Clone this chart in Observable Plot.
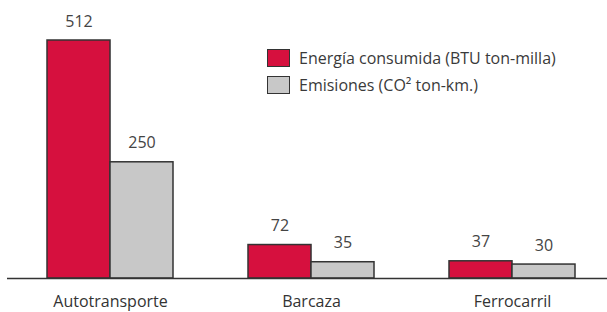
<!DOCTYPE html>
<html>
<head>
<meta charset="utf-8">
<script src="https://cdn.jsdelivr.net/npm/d3@7"></script>
<script src="https://cdn.jsdelivr.net/npm/@observablehq/plot@0.6"></script>
<style>
  html, body { margin: 0; padding: 0; background: #fff; }
  #wrap { position: relative; width: 607px; height: 312px; font-family: "Open Sans", Lato, sans-serif; }
  #legend { position: absolute; left: 267px; top: 44px; font-size: 16px; color: #3a3a3a; }
  .item { display: flex; align-items: center; height: 27px; }
  .sw { width: 23px; height: 18px; box-sizing: border-box; border: 1.5px solid #333; margin-right: 9px; }
</style>
</head>
<body>
<div id="wrap"></div>
<script>
const categories = ["Autotransporte", "Barcaza", "Ferrocarril"];
const seriesNames = ["Energía consumida (BTU ton-milla)", "Emisiones (CO² ton-km.)"];
const energia = [512, 72, 37];
const emisiones = [250, 35, 30];
const colors = ["#d6103e", "#c8c8c8"];

const rows = [];
categories.forEach((c, i) => {
  rows.push({cat: c, serie: seriesNames[0], value: energia[i], side: 0});
  rows.push({cat: c, serie: seriesNames[1], value: emisiones[i], side: 1});
});
const red = rows.filter(d => d.side === 0);
const gray = rows.filter(d => d.side === 1);

const width = 607, height = 312;
const marginLeft = 7, marginRight = 0;
const pi = 0.375, po = 0.176, align = 0.55;
const step = (width - marginLeft - marginRight) / (categories.length - pi + 2 * po);
const bw = step * (1 - pi);
const half = bw / 2;
const font = "'Open Sans', Lato, sans-serif";

const chart = Plot.plot({
  width, height,
  marginLeft, marginRight,
  marginTop: 40, marginBottom: 34,
  style: {fontFamily: font, background: "#fff"},
  x: {domain: categories, paddingInner: pi, paddingOuter: po, align, label: null, tickSize: 0, tickPadding: 17},
  y: {domain: [0, 512], axis: null},
  color: {domain: seriesNames, range: colors},
  marks: [
    Plot.barY(red, {x: "cat", y: "value", fill: "serie", stroke: "#333", strokeWidth: 1.5, insetRight: half}),
    Plot.barY(gray, {x: "cat", y: "value", fill: "serie", stroke: "#333", strokeWidth: 1.5, insetLeft: half}),
    Plot.text(red, {x: "cat", y: "value", text: d => String(d.value), dx: -half / 2, dy: -19, lineAnchor: "middle", fontSize: 16, fill: "#444", style: "letter-spacing:1.5px"}),
    Plot.text(gray, {x: "cat", y: "value", text: d => String(d.value), dx: half / 2, dy: -19, lineAnchor: "middle", fontSize: 16, fill: "#444", style: "letter-spacing:1.5px"}),
    Plot.ruleY([0], {stroke: "#333", strokeWidth: 1.5})
  ]
});
chart.querySelectorAll('g[aria-label="x-axis"] text, g[aria-label="x-axis tick label"] text').forEach(t => { t.setAttribute("font-size", "16"); t.setAttribute("fill", "#333"); });
const wrap = document.getElementById("wrap");
wrap.appendChild(chart);

const legend = document.createElement("div");
legend.id = "legend";
seriesNames.forEach((s, i) => {
  const item = document.createElement("div");
  item.className = "item";
  const sw = document.createElement("span");
  sw.className = "sw";
  sw.style.background = colors[i];
  const lab = document.createElement("span");
  lab.textContent = s;
  item.appendChild(sw);
  item.appendChild(lab);
  legend.appendChild(item);
});
wrap.appendChild(legend);
</script>
</body>
</html>
